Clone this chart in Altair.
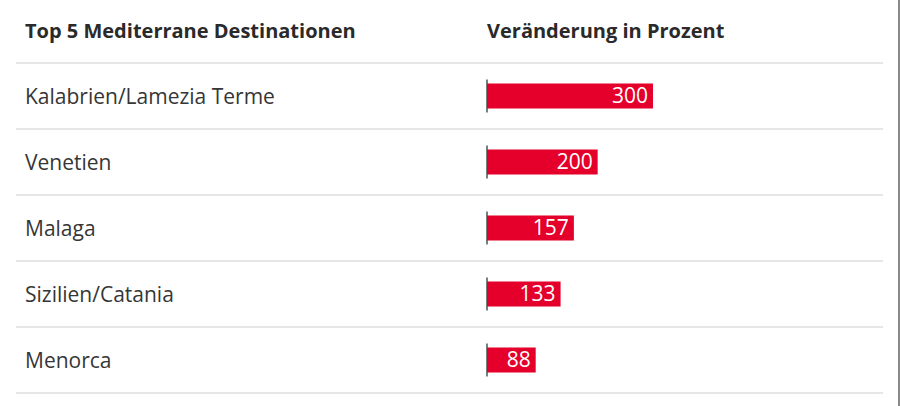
import altair as alt
import pandas as pd

destinations = ["Kalabrien/Lamezia Terme", "Venetien", "Malaga", "Sizilien/Catania", "Menorca"]
changes = [300, 200, 157, 133, 88]
header_left = "Top 5 Mediterrane Destinationen"
header_right = "Veränderung in Prozent"

df = pd.DataFrame({"row": list(range(1, 6)), "name": destinations, "value": changes})
seps = pd.DataFrame({"sep": [k + 0.5 for k in range(6)]})
hdr = pd.DataFrame({"row": [0]})

FONT = "Open Sans"
yscale = alt.Scale(domain=[0, 5], range=[30, 360], padding=0, nice=False, zero=False)
xscale = alt.Scale(domain=[0, 300], range=[487, 653], padding=0, nice=False)

Y = alt.Y("row:Q", scale=yscale, axis=None)

lines = alt.Chart(seps).mark_rule(color="#dedede", strokeWidth=1.5).encode(
    y=alt.Y("sep:Q", scale=yscale, axis=None), x=alt.value(16), x2=alt.value(883)
)
border = alt.Chart(hdr).mark_rule(color="#8a8a8a", strokeWidth=2).encode(
    x=alt.value(899), y=alt.value(0), y2=alt.value(406)
)
bars = alt.Chart(df).mark_bar(color="#e4002b", orient="horizontal", size=25).encode(
    x=alt.X("value:Q", scale=xscale, axis=None), y=Y
)
ticks = alt.Chart(df).mark_tick(color="#3d4a4a", orient="vertical", size=33, thickness=2).encode(
    x=alt.value(487), y=Y
)
vals = alt.Chart(df).mark_text(align="right", baseline="middle", dx=-5, dy=1, color="white",
                               font=FONT, fontSize=21).encode(
    x=alt.X("value:Q", scale=xscale, axis=None), y=Y, text="value:Q"
)
names = alt.Chart(df).mark_text(align="left", baseline="middle", dy=2, color="#363636",
                                font=FONT, fontSize=21).encode(
    x=alt.value(25), y=Y, text="name:N"
)
h1 = alt.Chart(hdr).mark_text(align="left", baseline="middle", dy=2, color="#2a2a2a",
                              font=FONT, fontSize=20, fontWeight="bold").encode(
    x=alt.value(25), y=Y, text=alt.value(header_left)
)
h2 = alt.Chart(hdr).mark_text(align="left", baseline="middle", dy=2, color="#2a2a2a",
                              font=FONT, fontSize=20, fontWeight="bold").encode(
    x=alt.value(487), y=Y, text=alt.value(header_right)
)

chart = alt.layer(lines, border, bars, ticks, vals, names, h1, h2).properties(
    width=900, height=406, autosize=alt.AutoSizeParams(type="none"), padding=0,
    background="white"
).configure_view(stroke=None)

chart.save("out.html", embed_options={"renderer": "svg", "actions": False})
